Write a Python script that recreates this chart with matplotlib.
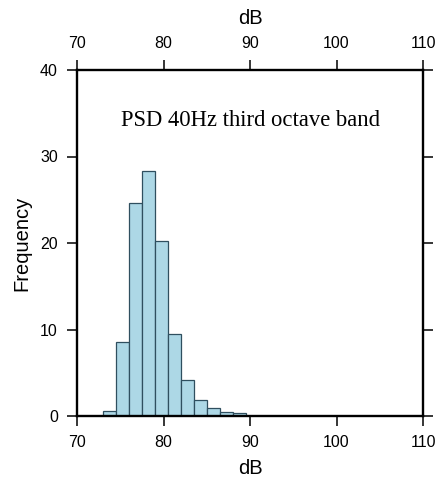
import matplotlib
matplotlib.use("Agg")
import matplotlib.pyplot as plt
import numpy as np

bin_edges = [73.0, 74.5, 76.0, 77.5, 79.0, 80.5, 82.0, 83.5, 85.0, 86.5, 88.0, 89.5]
frequency = [0.6, 8.5, 24.6, 28.3, 20.2, 9.5, 4.2, 1.85, 0.95, 0.45, 0.3]
x_ticks = [70, 80, 90, 100, 110]
y_ticks = [0, 10, 20, 30, 40]
title = "PSD 40Hz third octave band"

plt.rcParams['font.family'] = ['Liberation Sans', 'DejaVu Sans']

W, H = 444, 479
fig = plt.figure(figsize=(W / 100, H / 100), dpi=100)
L, B, S = 77, 63, 346
ax = fig.add_axes([L / W, B / H, S / W, S / H])

edges = np.array(bin_edges)
widths = np.diff(edges)
ax.bar(edges[:-1], frequency, width=widths, align='edge',
       color='#ADD8E6', edgecolor='#2f4f5f', linewidth=0.9)

ax.set_xlim(70, 110)
ax.set_ylim(0, 40)
ax.set_xticks(x_ticks)
ax.set_yticks(y_ticks)
ax.tick_params(axis='both', which='both', direction='out', length=7.2, width=1.1,
               labelsize=11.5, colors='black', pad=6.5)
ax.tick_params(axis='x', top=True, labeltop=True)
ax.tick_params(axis='y', right=True, labelright=False)

for s in ax.spines.values():
    s.set_linewidth(1.7)
    s.set_color('black')

ax.set_xlabel('dB', fontsize=14.5, va='center')
ax.xaxis.set_label_coords(0.5, (H - 469 - B) / S)
ax.set_ylabel('Frequency', fontsize=14.5, va='center')
ax.yaxis.set_label_coords((21.7 - L) / S, 0.5)

ax.text(0.5, (H - 18.5 - B) / S, 'dB', transform=ax.transAxes, ha='center',
        va='center', fontsize=14.5)

ax.text(0.5, (416 - 121) / S, title, transform=ax.transAxes, ha='center', va='center',
        fontsize=16.3, family=['Liberation Serif', 'DejaVu Serif'])

fig.savefig('out.png', dpi=100)
